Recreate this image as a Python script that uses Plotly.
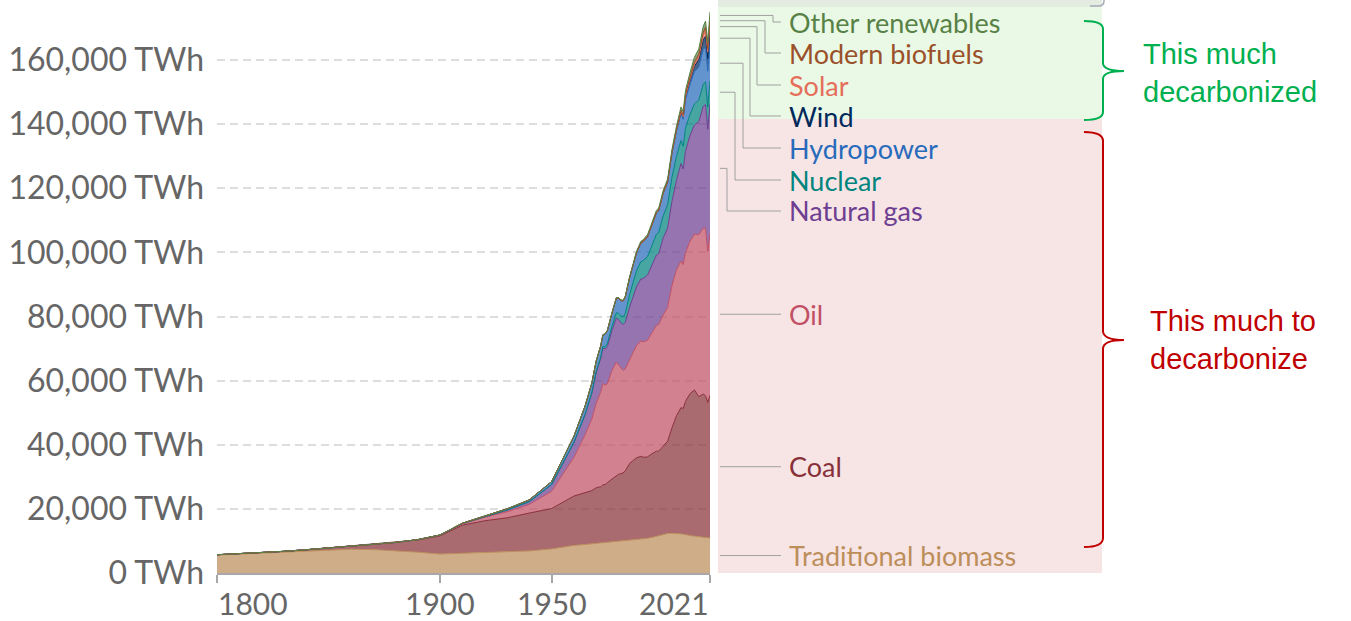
import plotly.graph_objects as go

# ---------------- data (TWh, global primary energy, substitution method) ----------------
years = [1800, 1810, 1820, 1830, 1840, 1850, 1860, 1870, 1880, 1890, 1900, 1910, 1920, 1930,
         1940, 1950, 1960, 1965, 1968, 1970, 1972, 1973, 1974, 1975, 1977, 1979, 1980, 1981,
         1982, 1983, 1985, 1988, 1990, 1991, 1993, 1995, 1997, 1998, 2000, 2002, 2004, 2006,
         2008, 2009, 2010, 2012, 2014, 2016, 2018, 2019, 2020, 2021]

traditional_biomass = [5600, 5900, 6200, 6500, 6900, 7300, 7400, 7300, 7000, 6500, 5900, 6100, 6300, 6600,
                       6900, 7500, 8600, 8900, 9100, 9200, 9300, 9400, 9400, 9500, 9700, 9800, 9900, 9950,
                       10000, 10050, 10200, 10400, 10500, 10600, 10800, 11100, 11500, 11700, 12000, 12300, 12400, 12400,
                       12200, 12100, 11900, 11700, 11500, 11300, 11100, 11000, 10900, 10900]

coal = [100, 130, 160, 260, 360, 570, 1000, 1600, 2500, 3800, 5700, 8800, 10000, 10600,
        11800, 12600, 15400, 16100, 16600, 17400, 17600, 18100, 18200, 18700, 19600, 20500, 20900, 21000,
        21200, 21800, 24000, 25500, 25900, 25500, 25400, 26100, 26500, 26300, 27500, 28800, 33000, 36700,
        39400, 39200, 41600, 44200, 45600, 43700, 44700, 44300, 42300, 44500]

oil = [0, 0, 0, 0, 0, 0, 0, 10, 30, 80, 180, 380, 1100, 1900,
       2700, 5400, 12100, 18100, 22300, 26400, 29500, 31600, 31000, 30800, 33800, 35500, 34100, 32800,
       32000, 31800, 32500, 35000, 36000, 36000, 36400, 37700, 39300, 39500, 41000, 41700, 44400, 45500,
       45700, 44900, 46400, 47500, 48600, 50500, 51800, 52200, 47100, 50600]

natural_gas = [0, 0, 0, 0, 0, 0, 0, 0, 0, 30, 60, 150, 250, 550,
               850, 2100, 4600, 6300, 8000, 9600, 10500, 11000, 11300, 11600, 12400, 13700, 14200, 14300,
               14300, 14500, 16300, 18300, 19300, 19700, 20300, 21000, 21900, 22100, 24000, 24800, 26300, 27900,
               30400, 29800, 31600, 33000, 34000, 35300, 38000, 38600, 38100, 40400]

nuclear = [0, 0, 0, 0, 0, 0, 0, 0, 0, 0, 0, 0, 0, 0,
           0, 0, 10, 70, 140, 220, 400, 560, 700, 1000, 1300, 1700, 1900, 2200,
           2400, 2800, 3900, 5000, 5400, 5600, 5800, 6300, 6500, 6600, 6900, 7200, 7500, 7500,
           7200, 7100, 7200, 6500, 6600, 6700, 6900, 7100, 6900, 7100]

hydropower = [0, 0, 0, 0, 0, 0, 0, 0, 0, 0, 10, 100, 180, 350,
              550, 900, 1900, 2600, 3000, 3300, 3500, 3600, 3900, 4000, 4100, 4500, 4700, 4800,
              4900, 5100, 5300, 5600, 5800, 5900, 6200, 6500, 6700, 6800, 7000, 7100, 7500, 7900,
              8300, 8400, 8900, 9400, 10000, 10300, 10800, 10800, 11200, 11000]

wind = [0, 0, 0, 0, 0, 0, 0, 0, 0, 0, 0, 0, 0, 0,
        0, 0, 0, 0, 0, 0, 0, 0, 0, 0, 0, 0, 0, 0,
        0, 0, 0, 0, 10, 12, 15, 20, 30, 40, 80, 130, 220, 350,
        590, 750, 930, 1380, 1780, 2380, 3000, 3400, 3950, 4600]

solar = [0, 0, 0, 0, 0, 0, 0, 0, 0, 0, 0, 0, 0, 0,
         0, 0, 0, 0, 0, 0, 0, 0, 0, 0, 0, 0, 0, 0,
         0, 0, 0, 0, 0, 0, 0, 0, 0, 0, 3, 5, 8, 15,
         32, 50, 80, 250, 470, 800, 1400, 1700, 2100, 2600]

modern_biofuels = [0, 0, 0, 0, 0, 0, 0, 0, 0, 0, 0, 0, 0, 0,
                   0, 0, 0, 0, 0, 0, 0, 0, 0, 0, 0, 0, 0, 0,
                   0, 0, 0, 0, 120, 120, 125, 130, 130, 130, 130, 160, 200, 300,
                   540, 580, 650, 680, 800, 850, 1000, 1100, 1000, 1100]

other_renewables = [0, 0, 0, 0, 0, 0, 0, 0, 0, 0, 0, 0, 0, 0,
                    0, 0, 40, 70, 85, 100, 110, 120, 130, 150, 170, 190, 200, 220,
                    240, 260, 300, 400, 450, 470, 510, 550, 590, 610, 650, 720, 790, 880,
                    1000, 1100, 1200, 1350, 1500, 1650, 1850, 1950, 2050, 2200]

source_names = ["Traditional biomass", "Coal", "Oil", "Natural gas", "Nuclear", "Hydropower",
                "Wind", "Solar", "Modern biofuels", "Other renewables"]
source_values = [traditional_biomass, coal, oil, natural_gas, nuclear, hydropower,
                 wind, solar, modern_biofuels, other_renewables]
source_colors = ["#BC8E5A", "#883039", "#C15065", "#6D3E91", "#00847E", "#286BBB",
                 "#00295B", "#E56E5A", "#9A5129", "#578145"]

y_tick_values = [0, 20000, 40000, 60000, 80000, 100000, 120000, 140000, 160000]
y_tick_labels = [f"{v:,} TWh" for v in y_tick_values]
x_tick_values = [1800, 1900, 1950, 2021]
x_tick_labels = ["1800", "1900", "1950", "2021"]

# ---------------- layout geometry (pixels) ----------------
W, H = 1351, 621
PL, PR, PT, PB = 217, 710, 5, 573
TWH_PER_PX = 160000 / (573 - 60)
YMAX = (PB - PT) * TWH_PER_PX


def px_x(px):
    return (px - PL) / (PR - PL)


def px_y(py):
    return (PB - py) / (PB - PT)


def rgba(hex_color, a):
    h = hex_color.lstrip("#")
    r, g, b = int(h[0:2], 16), int(h[2:4], 16), int(h[4:6], 16)
    return f"rgba({r},{g},{b},{a})"


fig = go.Figure()
for name, vals, col in zip(source_names, source_values, source_colors):
    fig.add_trace(go.Scatter(
        x=years, y=vals, name=name, mode="lines", stackgroup="one",
        line=dict(color=col, width=1), fillcolor=rgba(col, 0.72),
        hoverinfo="x+y+name", showlegend=False,
    ))

shapes = []
annotations = []

# shaded panels on the right
shapes.append(dict(type="rect", xref="paper", yref="paper", x0=px_x(718), x1=px_x(1102),
                   y0=px_y(7), y1=px_y(-2), fillcolor="#E4EBE1", line=dict(width=0), layer="below"))
shapes.append(dict(type="rect", xref="paper", yref="paper", x0=px_x(718), x1=px_x(1102),
                   y0=px_y(119), y1=px_y(7), fillcolor="#EAF9E6", line=dict(width=0), layer="below"))
shapes.append(dict(type="rect", xref="paper", yref="paper", x0=px_x(718), x1=px_x(1102),
                   y0=px_y(573), y1=px_y(119), fillcolor="#F7E4E5", line=dict(width=0), layer="below"))


def P(px, py):
    return f"{px_x(px):.5f},{px_y(py):.5f}"


# small grey bracket corner at the very top
shapes.append(dict(type="path", xref="paper", yref="paper",
                   path=f"M {P(1090, 6)} L {P(1098, 6)} Q {P(1104, 6)} {P(1104, 1)} L {P(1104, -2)}",
                   line=dict(color="#A3ABB5", width=1.5)))


def brace(x0, xv, xtip, ytop, ymid, ybot, r):
    return (f"M {P(x0, ytop)} Q {P(xv, ytop)} {P(xv, ytop + r)} L {P(xv, ymid - r)} "
            f"Q {P(xv, ymid)} {P(xtip, ymid)} Q {P(xv, ymid)} {P(xv, ymid + r)} "
            f"L {P(xv, ybot - r)} Q {P(xv, ybot)} {P(x0, ybot)}")


shapes.append(dict(type="path", xref="paper", yref="paper",
                   path=brace(1084, 1103, 1124, 21, 71, 120, 8),
                   line=dict(color="#00B050", width=2)))
shapes.append(dict(type="path", xref="paper", yref="paper",
                   path=brace(1084, 1103, 1124, 132, 340, 547, 9),
                   line=dict(color="#C00000", width=2)))

# connector lines + labels from the final-year stack
label_py = {"Other renewables": 22, "Modern biofuels": 53, "Solar": 85, "Wind": 116,
            "Hydropower": 148, "Nuclear": 180, "Natural gas": 211}
bend_px = {"Other renewables": 773, "Modern biofuels": 765, "Solar": 757, "Wind": 750,
           "Hydropower": 743, "Nuclear": 735, "Natural gas": 727}
cum = 0
for name, vals, col in zip(source_names, source_values, source_colors):
    lo, hi = cum, cum + vals[-1]
    cum = hi
    mid_paper = ((lo + hi) / 2) / YMAX
    mid_py = PB - mid_paper * (PB - PT)
    ly = label_py.get(name, mid_py)
    bx = bend_px.get(name, 750)
    path = (f"M {px_x(720):.5f},{mid_paper:.5f} L {px_x(bx):.5f},{mid_paper:.5f} "
            f"L {px_x(bx):.5f},{px_y(ly):.5f} L {px_x(781):.5f},{px_y(ly):.5f}")
    shapes.append(dict(type="path", xref="paper", yref="paper", path=path,
                       line=dict(color="#A0A0A0", width=1)))
    annotations.append(dict(xref="paper", yref="paper", x=px_x(787), y=px_y(ly),
                            xanchor="left", yanchor="middle", showarrow=False, text=name,
                            font=dict(family="Lato", size=27, color=col)))

# x tick labels (edge labels aligned inwards)
anchors = ["left", "center", "center", "right"]
for xv, txt, anc in zip(x_tick_values, x_tick_labels, anchors):
    annotations.append(dict(xref="x", yref="paper", x=xv, y=px_y(603), xanchor=anc,
                            yanchor="middle", showarrow=False, text=txt, borderpad=0,
                            font=dict(family="Lato", size=30, color="#666666")))

annotations.append(dict(xref="paper", yref="paper", x=px_x(1141), y=px_y(73), xanchor="left",
                        yanchor="middle", showarrow=False, align="left",
                        text="This much<br>decarbonized",
                        font=dict(family="Liberation Sans", size=29, color="#00B050")))
annotations.append(dict(xref="paper", yref="paper", x=px_x(1148), y=px_y(340), xanchor="left",
                        yanchor="middle", showarrow=False, align="left",
                        text="This much to<br>decarbonize",
                        font=dict(family="Liberation Sans", size=29, color="#C00000")))

fig.update_layout(
    width=W, height=H, autosize=False,
    margin=dict(l=PL, r=W - PR, t=PT, b=H - PB, pad=0),
    paper_bgcolor="white", plot_bgcolor="white",
    shapes=shapes, annotations=annotations, showlegend=False,
    font=dict(family="Lato", color="#666666"),
)
fig.update_xaxes(range=[1800, 2021], showgrid=False, zeroline=False, showline=True,
                 linecolor="#A8A8A8", linewidth=1.5, ticks="outside", ticklen=8,
                 tickcolor="#A8A8A8", tickwidth=1.5, tickvals=x_tick_values,
                 showticklabels=False, automargin=False)
fig.update_yaxes(range=[0, YMAX], tickmode="array", tickvals=y_tick_values, ticktext=y_tick_labels,
                 showgrid=True, gridcolor="#DDDDDD", gridwidth=1.5, griddash="8px,5px",
                 zeroline=False, showline=False, ticks="", ticklabelstandoff=12,
                 tickfont=dict(family="Lato", size=32, color="#666666"), automargin=False)

fig.write_html("out.html", config={"displayModeBar": False},
               post_script="document.body.style.margin='0px';")
